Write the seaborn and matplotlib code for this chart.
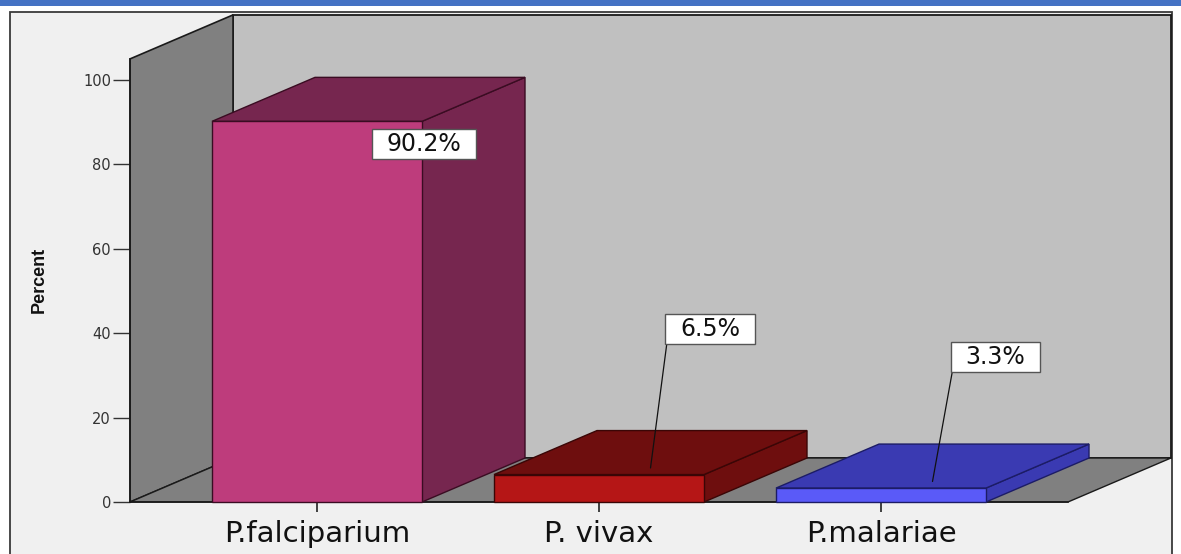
import matplotlib
matplotlib.use('Agg')
import matplotlib.pyplot as plt
import seaborn as sns
from matplotlib.patches import Polygon, Rectangle
from matplotlib.path import Path

# ---------------- data ----------------
categories = ['P.falciparium', 'P. vivax', 'P.malariae']
percent = [90.2, 6.5, 3.3]
value_labels = ['90.2%', '6.5%', '3.3%']
yticks = [0, 20, 40, 60, 80, 100]

# ---------------- style ----------------
front_colors = ['#BE3C7C', '#B51616', '#5A5AF8']
shade_colors = ['#76264F', '#6E0E0E', '#3A3AB2']
edge_colors = ['#3A0C22', '#3A0606', '#1C1C66']

sns.set_theme(style='white')
plt.rcParams['font.family'] = ['DejaVu Sans']

W, H = 1181, 554
fig = plt.figure(figsize=(W / 100, H / 100), dpi=100)
ax = fig.add_axes([0, 0, 1, 1])
ax.set_facecolor('white')

# pixel scale of the reference layout
px_cat, px_val, x0, y0 = 282.0, 4.22, 317.0, 502.0
dx, dy = 103 / px_cat, 44 / px_val          # 3D depth offset in data units
bar_w = 210 / px_cat
wall_h = 105
margin = 0.663

sns.barplot(x=categories, y=percent, hue=categories, palette=front_colors,
            width=bar_w, legend=False, ax=ax, zorder=3, linewidth=1.0,
            edgecolor='#222222', saturation=1)
bars = list(ax.patches)

ax.set_xlim(-x0 / px_cat, (W - x0) / px_cat)
ax.set_ylim(-(H - y0) / px_val, y0 / px_val)

# ---------- frame / background ----------
ax.add_patch(Rectangle((10 / W, -0.02), (1172 - 10) / W, (H - 12) / H + 0.02,
                       transform=ax.transAxes, fc='#F0F0F0', ec='#3a3a3a',
                       lw=1.3, zorder=0, clip_on=False))
ax.add_patch(Rectangle((0, 1 - 5.5 / H), 1, 5.5 / H, transform=ax.transAxes,
                       fc='#4472C4', ec='none', zorder=0.05, clip_on=False))

x_l = -margin
x_r = len(categories) - 1 + margin
# back wall
ax.add_patch(Polygon([(x_l + dx, dy), (x_r + dx, dy), (x_r + dx, wall_h + dy),
                      (x_l + dx, wall_h + dy)], closed=True, fc='#C0C0C0',
                     ec='#1a1a1a', lw=1.3, zorder=0.5))
# left wall
ax.add_patch(Polygon([(x_l, 0), (x_l + dx, dy), (x_l + dx, wall_h + dy),
                      (x_l, wall_h)], closed=True, fc='#808080',
                     ec='#1a1a1a', lw=1.2, zorder=0.6))
# floor
ax.add_patch(Polygon([(x_l, 0), (x_r, 0), (x_r + dx, dy), (x_l + dx, dy)],
                     closed=True, fc='#808080', ec='#1a1a1a', lw=1.0, zorder=0.6))

# ---------- 3D faces of bars ----------
for bar, shade, edge in zip(bars, shade_colors, edge_colors):
    bx, bw, bh = bar.get_x(), bar.get_width(), bar.get_height()
    bar.set_edgecolor(edge)
    top = [(bx, bh), (bx + bw, bh), (bx + bw + dx, bh + dy), (bx + dx, bh + dy)]
    side = [(bx + bw, 0), (bx + bw + dx, dy), (bx + bw + dx, bh + dy), (bx + bw, bh)]
    ax.add_patch(Polygon(side, closed=True, fc=shade, ec=edge, lw=1.0, zorder=2.8))
    ax.add_patch(Polygon(top, closed=True, fc=shade, ec=edge, lw=1.0, zorder=2.9))

# ---------- axes ----------
for s in ['top', 'right']:
    ax.spines[s].set_visible(False)
ax.spines['left'].set_position(('data', x_l))
ax.spines['left'].set_bounds(0, wall_h)
ax.spines['bottom'].set_position(('data', 0))
ax.spines['bottom'].set_bounds(x_l, x_r)
for s in ['left', 'bottom']:
    ax.spines[s].set_color('#1a1a1a')
    ax.spines[s].set_linewidth(1.2)
    ax.spines[s].set_zorder(2.7)

ax.set_yticks(yticks)
ax.set_yticklabels([str(t) for t in yticks])
ax.tick_params(axis='y', direction='out', length=12.2, width=1.0,
               color='#333333', pad=1.5, labelsize=10.5, labelcolor='#333333',
               left=True)
ax.tick_params(axis='x', direction='out', length=7.2, width=1.2,
               color='#222222', pad=6, labelsize=21, labelcolor='#111111',
               bottom=True)
ax.set_xlabel('')
ax.set_ylabel('Percent', fontsize=13, fontweight='bold',
              family=['Liberation Sans', 'DejaVu Sans'], color='#111111')
ax.yaxis.set_label_coords(48 / W, 1 - 280 / H)


# wide rectangular label box (wider horizontal than vertical padding)
def wide_box(x0, y0, width, height, mutation_size):
    padx, pady = 0.62 * mutation_size, 0.14 * mutation_size
    return Path([(x0 - padx, y0 - pady), (x0 + width + padx, y0 - pady),
                 (x0 + width + padx, y0 + height + pady),
                 (x0 - padx, y0 + height + pady), (x0 - padx, y0 - pady)],
                closed=True)


# ---------- value labels ----------
label_pos = [(0.38, 84.8), (1.394, 41.0), (2.406, 34.4)]
leader = [False, True, True]
for i, (txt, (lx, ly), has_line) in enumerate(zip(value_labels, label_pos, leader)):
    bar = bars[i]
    cx = bar.get_x() + bar.get_width() / 2
    target = (cx + dx / 2, percent[i] + 0.15 * dy)
    kw = dict(arrowprops=dict(arrowstyle='-', color='#111111', lw=0.9,
                              relpos=(-0.22, -0.08), shrinkA=0, shrinkB=0)) if has_line else {}
    ax.annotate(txt, xy=target if has_line else (lx, ly), xytext=(lx, ly),
                textcoords='data', ha='center', va='center', fontsize=17,
                color='#111111', zorder=5,
                bbox=dict(boxstyle=wide_box, fc='white', ec='#555555', lw=1.0),
                **kw)

fig.savefig('out.png', dpi=100, facecolor='white')
